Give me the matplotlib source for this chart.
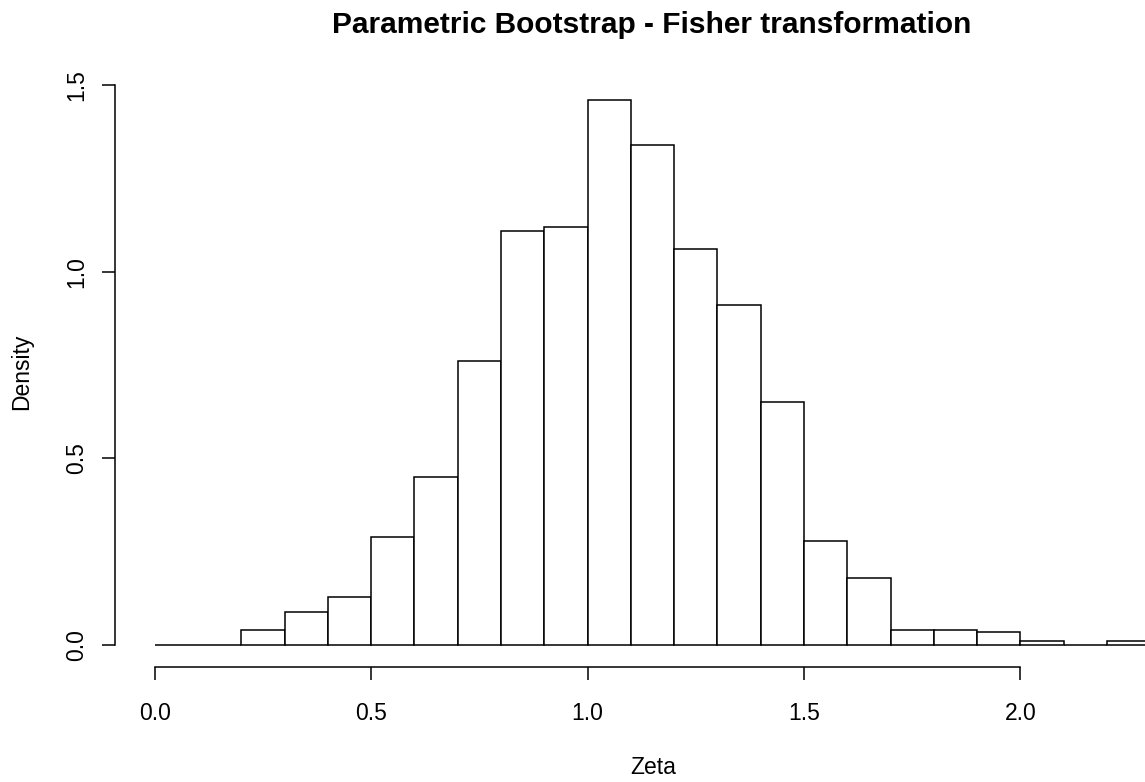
import numpy as np
import matplotlib
matplotlib.use("Agg")
import matplotlib.pyplot as plt

plt.rcParams['font.family'] = ['Liberation Sans', 'DejaVu Sans']

# histogram of bootstrapped zeta values (density, bin width 0.1)
bin_edges = [0.0, 0.1, 0.2, 0.3, 0.4, 0.5, 0.6, 0.7, 0.8, 0.9, 1.0, 1.1,
             1.2, 1.3, 1.4, 1.5, 1.6, 1.7, 1.8, 1.9, 2.0, 2.1, 2.2, 2.3]
density = [0.0, 0.0, 0.04, 0.09, 0.13, 0.29, 0.45, 0.76, 1.11, 1.12, 1.46,
           1.34, 1.06, 0.91, 0.65, 0.28, 0.18, 0.04, 0.04, 0.035, 0.01, 0.0, 0.01]
x_ticks = [0.0, 0.5, 1.0, 1.5, 2.0]
y_ticks = [0.0, 0.5, 1.0, 1.5]

W, H = 1145, 782
fig = plt.figure(figsize=(W / 100, H / 100), dpi=100)

# plot region in pixels (R style, right edge runs off the picture)
left_px, right_px, top_px, bottom_px = 115, 1190, 78, 667
ax = fig.add_axes([left_px / W, 1 - bottom_px / H,
                   (right_px - left_px) / W, (bottom_px - top_px) / H])

lefts = np.array(bin_edges[:-1])
widths = np.diff(bin_edges)
ax.bar(lefts, density, width=widths, align='edge', color='white',
       edgecolor='black', linewidth=1.1)

# R's 4% axis extension
xr = bin_edges[-1] - bin_edges[0]
yr = max(density)
ax.set_xlim(bin_edges[0] - 0.04 * xr, bin_edges[-1] + 0.04 * xr)
ax.set_ylim(-0.04 * yr, yr + 0.04 * yr)

for s in ['top', 'right']:
    ax.spines[s].set_visible(False)
ax.spines['left'].set_bounds(y_ticks[0], y_ticks[-1])
ax.spines['bottom'].set_bounds(x_ticks[0], x_ticks[-1])
ax.spines['left'].set_linewidth(1.1)
ax.spines['bottom'].set_linewidth(1.1)

ax.set_xticks(x_ticks)
ax.set_xticklabels(['%.1f' % v for v in x_ticks])
ax.set_yticks(y_ticks)
ax.set_yticklabels(['%.1f' % v for v in y_ticks], rotation=90, va='center')
ax.tick_params(axis='x', length=9.5, width=1.1, pad=16, labelsize=16.5)
ax.tick_params(axis='y', length=9.5, width=1.1, pad=10, labelsize=16.5)

fig.text(652 / W, 1 - 25 / H, 'Parametric Bootstrap - Fisher transformation',
         ha='center', va='center', fontsize=21.5, fontweight='bold')
fig.text(653 / W, 1 - 767 / H, 'Zeta', ha='center', va='center', fontsize=16.5)
fig.text(22 / W, 1 - 372 / H, 'Density', ha='center', va='center',
         rotation=90, fontsize=16.5)

fig.savefig('out.png', dpi=100)
